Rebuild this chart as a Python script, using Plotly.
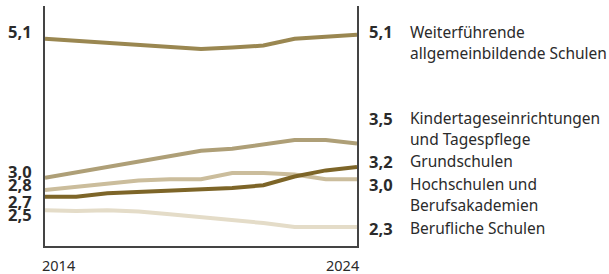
import plotly.graph_objects as go

years = list(range(2014, 2025))
names = [
    "Weiterführende<br>allgemeinbildende Schulen",
    "Kindertageseinrichtungen<br>und Tagespflege",
    "Grundschulen",
    "Hochschulen und<br>Berufsakademien",
    "Berufliche Schulen",
]
weiter = [5.07, 5.04, 5.02, 4.98, 4.95, 4.92, 4.94, 4.97, 5.07, 5.10, 5.13]
kita = [3.01, 3.09, 3.17, 3.25, 3.34, 3.41, 3.44, 3.51, 3.57, 3.57, 3.52]
grund = [2.73, 2.73, 2.78, 2.80, 2.81, 2.83, 2.86, 2.90, 3.03, 3.12, 3.17]
hoch = [2.83, 2.88, 2.93, 2.97, 2.99, 2.99, 3.08, 3.08, 3.06, 2.99, 2.99]
beruf = [2.53, 2.52, 2.53, 2.51, 2.47, 2.43, 2.39, 2.34, 2.28, 2.28, 2.28]
series = [weiter, kita, grund, hoch, beruf]
colors = ["#9a8751", "#ae9f77", "#7d6528", "#cbbd9c", "#e4dcc8"]
tick_years = [2014, 2024]

# draw order: lightest first so darker lines are on top
order = [4, 3, 1, 0, 2]
fig = go.Figure()
for i in order:
    fig.add_trace(go.Scatter(x=years, y=series[i], mode="lines", name=names[i],
                             line=dict(color=colors[i], width=4), hoverinfo="skip"))

FONT = "Noto Sans"
txt = "#2b2b2b"
fmt = lambda v: f"{v:.1f}".replace(".", ",")

left_shift = [7, 6, -5, 5, -4]
right_shift = [3, 25, 6, -5, -1]
ann = []
for i, s in enumerate(series):
    ann.append(dict(x=years[0], y=s[0], xref="x", yref="y", text=f"<b>{fmt(s[0])}</b>",
                    showarrow=False, xanchor="right", yanchor="middle", xshift=-11,
                    yshift=left_shift[i], font=dict(family=FONT, size=16.5, color=txt)))
    ann.append(dict(x=years[-1], y=s[-1], xref="x", yref="y", text=f"<b>{fmt(s[-1])}</b>",
                    showarrow=False, xanchor="left", yanchor="middle", xshift=10,
                    yshift=right_shift[i], font=dict(family=FONT, size=16.5, color=txt)))
    lines = names[i].split("<br>")
    for j, ln in enumerate(lines):
        ann.append(dict(x=years[-1], y=s[-1], xref="x", yref="y", text=ln,
                        showarrow=False, xanchor="left", yanchor="middle", xshift=51,
                        yshift=right_shift[i] - 21 * j,
                        font=dict(family=FONT, size=15.5, color=txt)))

ann.append(dict(x=tick_years[0], y=0, xref="x", yref="paper", text=str(tick_years[0]),
                showarrow=False, xanchor="left", yanchor="middle", xshift=-5, yshift=-19,
                font=dict(family=FONT, size=14.5, color=txt)))
ann.append(dict(x=tick_years[1], y=0, xref="x", yref="paper", text=str(tick_years[1]),
                showarrow=False, xanchor="right", yanchor="middle", xshift=4, yshift=-19,
                font=dict(family=FONT, size=14.5, color=txt)))

fig.update_layout(
    width=609, height=274,
    margin=dict(l=45, r=252, t=6, b=28),
    paper_bgcolor="white", plot_bgcolor="white",
    showlegend=False,
    annotations=ann,
    xaxis=dict(range=[2014, 2024], showgrid=False, zeroline=False, showticklabels=False,
               ticks="", showline=True, linecolor="#444444", linewidth=1.5),
    yaxis=dict(range=[2.0, 5.556], showgrid=False, zeroline=False, showticklabels=False,
               ticks="", showline=True, mirror=True, linecolor="#444444", linewidth=1.5),
)
fig.write_html("out.html", config={"displayModeBar": False},
               post_script="document.body.style.margin='0';document.body.style.overflow='hidden';")
